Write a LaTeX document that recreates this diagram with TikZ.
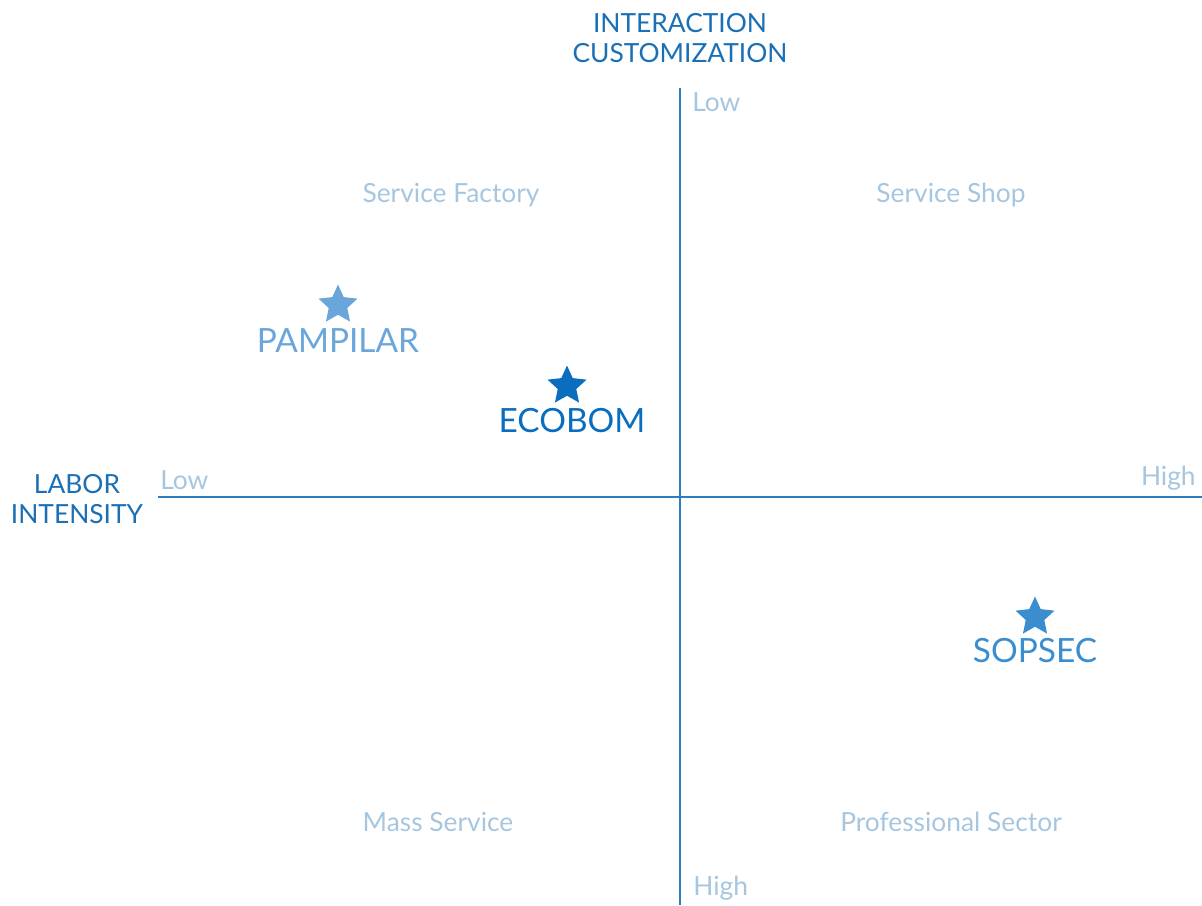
\documentclass[tikz,border=0pt]{standalone}
\usepackage{fontspec}
\setmainfont{Lato}
\usetikzlibrary{shapes.geometric}
\definecolor{axisblue}{HTML}{2E7BC0}
\definecolor{titleblue}{HTML}{1A6FB5}
\definecolor{paleblue}{HTML}{A6C6E0}
\definecolor{pampblue}{HTML}{6AA6DA}
\definecolor{ecoblue}{HTML}{0A6DBE}
\definecolor{sopblue}{HTML}{3A8ED0}
\begin{document}
\begin{tikzpicture}
[x=0.02cm,y=-0.02cm,
					axis/.style={draw=axisblue,line width=1.4pt},
					title/.style={text=titleblue,font=\fontsize{15}{17}\selectfont,align=center,inner sep=0pt},
					scale label/.style={text=paleblue,font=\fontsize{15}{17}\selectfont,inner sep=0pt},
					quadrant/.style={text=paleblue,font=\fontsize{15}{17}\selectfont,inner sep=0pt},
					mark star/.style={star,star points=5,star point ratio=2.1,minimum size=0.82cm,inner sep=0pt,fill=#1,draw=none},
					company/.style={text=#1,font=\fontsize{19}{21}\selectfont,inner sep=0pt}]
					\useasboundingbox (0,0) rectangle (1202,905);
					\coordinate (vtop) at (680,88);
					\coordinate (vbot) at (680,905);
					\coordinate (hleft) at (158,497);
					\coordinate (hright) at (1202,497);
					\path[axis] (vtop) -- (vbot);
					\path[axis] (hleft) -- (hright);
					\node[title] (custom) at (680,38) {INTERACTION\\CUSTOMIZATION};
					\node[title] (labor) at (77,499) {LABOR\\INTENSITY};
					\node[scale label,anchor=west] (clow) at (692,102) {Low};
					\node[scale label,anchor=west] (chigh) at (693,888) {High};
					\node[scale label,anchor=west] (llow) at (160,480) {Low};
					\node[scale label,anchor=east] (lhigh) at (1196,478) {High};
					\node[quadrant] (factory) at (451,195) {Service Factory};
					\node[quadrant] (shop) at (951,195) {Service Shop};
					\node[quadrant] (mass) at (438,822) {Mass Service};
					\node[quadrant] (prof) at (951,822) {Professional Sector};
					\node[mark star=pampblue] (pstar) at (338,305) {};
					\node[company=pampblue] (pampilar) at (338,341) {PAMPILAR};
					\node[mark star=ecoblue] (estar) at (567,386) {};
					\node[company=ecoblue] (ecobom) at (572,421) {ECOBOM};
					\node[mark star=sopblue] (sstar) at (1035,617) {};
					\node[company=sopblue] (sopsec) at (1035,651) {SOPSEC};
				\end{tikzpicture}
\end{document}
